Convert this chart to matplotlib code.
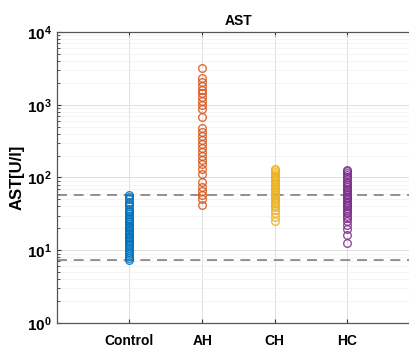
import matplotlib
matplotlib.use("Agg")
import matplotlib.pyplot as plt
import numpy as np

# --- data ---
groups = ["Control", "AH", "CH", "HC"]
colours = ["#0072BD", "#D95319", "#EDB120", "#7E2F8E"]

control = [7.4, 7.8, 8.3, 8.9, 9.5, 10.1, 10.8, 11.3, 11.9, 12.5, 13.2, 13.8,
           14.5, 15.1, 15.9, 16.6, 17.4, 18.2, 19.0, 19.9, 20.8, 21.7, 22.9,
           24.1, 25.3, 26.7, 28.0, 29.6, 31.2, 33.0, 35.1, 37.4, 40.0, 43.1,
           46.5, 50.2, 54.0, 57.8]
ah = [3230, 2320, 2070, 1820, 1610, 1430, 1260, 1110, 986, 869, 684, 472,
      416, 366, 330, 287, 253, 221, 199, 173, 152, 130, 111, 87, 75, 66,
      57, 50, 42]
ch = [25.3, 28.5, 32.0, 36.0, 39.5, 42.0, 45.0, 48.0, 51.0, 54.0, 57.0,
      60.0, 63.5, 67.0, 70.5, 74.0, 78.0, 82.0, 86.5, 91.0, 96.0, 101, 106,
      112, 118, 125, 131]
hc = [12.5, 16.0, 19.5, 22.5, 25.0, 27.5, 30.0, 32.0, 34.0, 36.0, 38.0, 40.0,
      42.0, 44.0, 46.5, 49.0, 51.5, 54.0, 57.0, 60.0, 63.0, 66.5, 70.0, 74.0,
      78.5, 83.0, 88.0, 94.0, 100, 107, 114, 121, 128]
ref_lines = [7.4, 57.8]  # dashed reference limits

y_ticks = [1, 10, 100, 1000, 10000]
y_tick_labels = [r"$\mathbf{10^{0}}$", r"$\mathbf{10^{1}}$", r"$\mathbf{10^{2}}$",
                 r"$\mathbf{10^{3}}$", r"$\mathbf{10^{4}}$"]

plt.rcParams["font.family"] = ["Liberation Sans", "DejaVu Sans"]
plt.rcParams["mathtext.fontset"] = "custom"
plt.rcParams["mathtext.bf"] = "Liberation Sans:bold"
plt.rcParams["mathtext.rm"] = "Liberation Sans:bold"

fig = plt.figure(figsize=(4.09, 3.48), dpi=100)
ax = fig.add_axes([0.139, 0.072, 0.888, 0.836])

for i, (vals, col) in enumerate(zip([control, ah, ch, hc], colours)):
    xs = np.full(len(vals), i + 1)
    ax.plot(xs, vals, "o", mfc="none", mec=col, ms=5.5, mew=1.0, alpha=0.85,
            zorder=3)

for r in ref_lines:
    ax.axhline(r, color="#7f7f7f", lw=1.2, ls=(0, (6, 4)), zorder=2)

ax.set_yscale("log")
ax.set_ylim(1, 10000)
ax.set_xlim(0, 5)
ax.set_xticks(range(1, len(groups) + 1))
ax.set_xticklabels(groups, fontsize=10, fontweight="bold")
ax.set_yticks(y_ticks)
ax.set_yticklabels(y_tick_labels, fontsize=11)
ax.tick_params(axis="both", which="both", direction="in", top=True,
               colors="#333333", labelcolor="black")
ax.tick_params(axis="both", which="major", length=3, width=0.8)
ax.tick_params(axis="y", which="minor", length=2, width=0.6)
ax.tick_params(axis="x", pad=8)

ax.grid(True, which="major", color="#e0e0e0", lw=0.7, zorder=0)
ax.grid(True, which="minor", axis="y", color="#f0f0f0", lw=0.5, zorder=0)

for side in ["left", "bottom", "top"]:
    ax.spines[side].set_color("#555555")
    ax.spines[side].set_linewidth(0.9)
ax.spines["right"].set_visible(False)

ax.set_ylabel("AST[U/l]", fontsize=12, fontweight="bold", labelpad=2)
ax.set_title("AST", fontsize=10, fontweight="bold", pad=5)

fig.savefig("out.png", dpi=100)
